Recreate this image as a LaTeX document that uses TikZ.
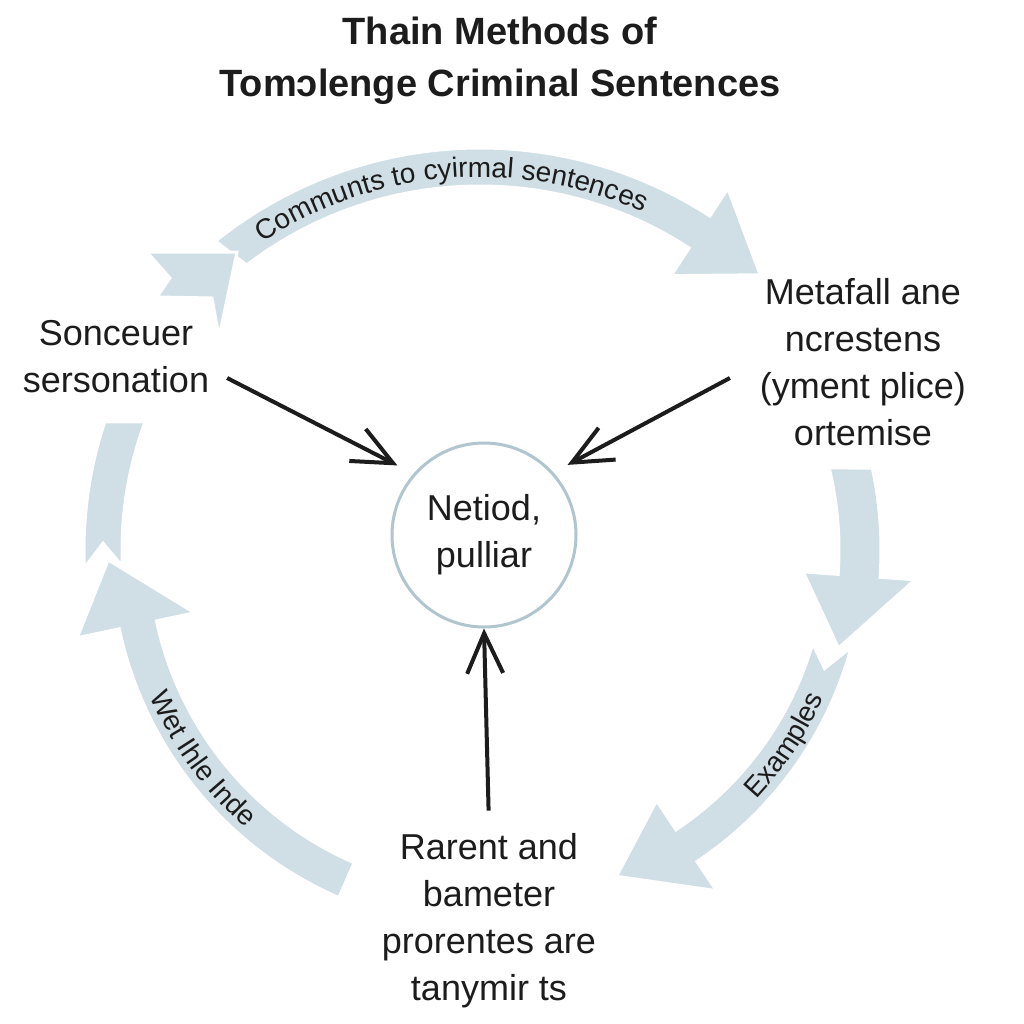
\documentclass[tikz,border=0pt]{standalone}
\usepackage{fontspec}
\setmainfont{Liberation Sans}
\usepackage{xcolor}
\usetikzlibrary{arrows.meta,positioning,decorations.text}
\definecolor{bandblue}{RGB}{208,222,229}
\definecolor{ringblue}{RGB}{176,197,206}
\definecolor{ink}{RGB}{28,28,28}
\newcommand{\bodyfont}{\fontsize{18}{23.5}\selectfont}
\newcommand{\titlefont}{\bfseries\fontsize{19}{26}\selectfont}
\tikzset{
  band/.style = {fill = bandblue, draw = white, line width = 1.5pt},
  pointer/.style = {-{Straight Barb[length = 20pt, width = 18pt]}, line width = 2pt, ink},
  bandtext/.style = {decorate, decoration = {text along path, text align = center,
      text color = ink, text = {|\fontsize{14}{14}\selectfont|#1}}}
}

\begin{document}
\begin{tikzpicture}[x = .5pt, y = .5pt]
\useasboundingbox[fill = white] (0,0) rectangle (1024,-1024);

% cycle of light bands
\begin{scope}[shift = {(480,-570)}]
\fill[band] (128.8:422) arc[start angle = 128.8, end angle = 57, radius = 422] -- (57:455) -- (46.5:407) -- (57:351) -- (57:384) arc[start angle = 57, end angle = 127.4, radius = 384] -- cycle;
\path[bandtext = {Communts to cyirmal sentences}] (125:393) arc[start angle = 125, end angle = 64, radius = 393];
\end{scope}
\begin{scope}[shift = {(490,-550)}]
\fill[band] (12.1:391) arc[start angle = 12.1, end angle = -4, radius = 391] -- (-4:426) -- (-15.7:362) -- (-4:314) -- (-4:349) arc[start angle = -4, end angle = 13.6, radius = 349] -- cycle;
\fill[band] (-15.1:374) arc[start angle = -15.1, end angle = -56.4, radius = 374] -- (-56.4:409) -- (-68.8:350) -- (-56.4:301) -- (-56.4:336) arc[start angle = -56.4, end angle = -16.2, radius = 336] -- (-19.5:355) -- cycle;
\path[bandtext = {Examples}] (-50:365) arc[start angle = -50, end angle = -17, radius = 365];
\fill[band] (246.5:379) arc[start angle = 246.5, end angle = 192, radius = 379] -- (192:422) -- (181.5:382) -- (192:302) -- (192:341) arc[start angle = 192, end angle = 246.5, radius = 341] -- cycle;
\path[bandtext = {Wet Ihle Inde}] (199:370) arc[start angle = 199, end angle = 233, radius = 370];
\fill[band] (182.5:406) arc[start angle = 182.5, end angle = 161.6, radius = 406] -- (159.6:368) arc[start angle = 159.6, end angle = 182.5, radius = 368] -- (179:387) -- cycle;
\end{scope}
\fill[band] (147,-252) -- (237,-252) -- (219,-337) -- (212,-298) -- (157,-297) -- (170,-278) -- cycle;

\node[font = \titlefont, align = center, text = ink] (title) at (500,-61) {Thain Methods of\\Tomɔlenge Criminal Sentences};
\node[draw = ringblue, line width = 1.5pt, circle, minimum size = 92pt, font = \bodyfont, align = center, text = ink] (core) at (484,-535) {Netiod,\\pulliar};
\node[font = \bodyfont, align = center, text = ink] (lft) at (116,-357) {Sonceuer\\sersonation};
\node[font = \bodyfont, align = center, text = ink] (rgt) at (863,-362) {Metafall ane\\ncrestens\\(yment plice)\\ortemise};
\node[font = \bodyfont, align = center, text = ink] (bot) at (489,-921) {Rarent and\\bameter\\prorentes are\\tanymir ts};

\draw[pointer, shorten >= 9pt] ([xshift = 5.5pt, yshift = -10.5pt]lft.east) -- (core.139);
\draw[pointer, shorten >= 8pt] ([xshift = -11.5pt, yshift = -8pt]rgt.west) -- (core.42);
\draw[pointer, shorten <= 8pt] (bot.north) -- (core.south);
\end{tikzpicture}
\end{document}
